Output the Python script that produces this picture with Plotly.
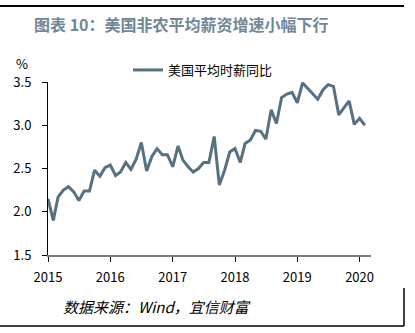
import plotly.graph_objects as go
import pandas as pd

# ---- data ----
months = pd.date_range("2015-01-01", "2020-02-01", freq="MS")
wage_yoy = [
    2.15, 1.90, 2.17, 2.25, 2.29, 2.23, 2.13, 2.24, 2.24, 2.48, 2.41, 2.51,   # 2015
    2.54, 2.42, 2.46, 2.57, 2.49, 2.61, 2.80, 2.47, 2.64, 2.73, 2.66, 2.66,   # 2016
    2.52, 2.76, 2.60, 2.52, 2.46, 2.50, 2.57, 2.57, 2.87, 2.31, 2.48, 2.69,   # 2017
    2.73, 2.57, 2.79, 2.83, 2.94, 2.93, 2.84, 3.18, 3.02, 3.32, 3.36, 3.38,   # 2018
    3.26, 3.49, 3.43, 3.36, 3.30, 3.41, 3.47, 3.45, 3.12, 3.20, 3.28, 3.01,   # 2019
    3.08, 3.00,                                                               # 2020
]
year_ticks = ["2015-01-01", "2016-01-01", "2017-01-01", "2018-01-01", "2019-01-01", "2020-01-01"]
year_labels = ["2015", "2016", "2017", "2018", "2019", "2020"]
y_ticks = [1.5, 2.0, 2.5, 3.0, 3.5]

series_name = "美国平均时薪同比"
title_text = "图表 10：美国非农平均薪资增速小幅下行"
source_text = "数据来源：Wind，宜信财富"

W, H = 415, 333
L, R, T, B = 48, 44, 82, 78
PW, PH = W - L - R, H - T - B

def px(x):
    return (x - L) / PW

def py(y):
    return (H - B - y) / PH

LINE_COLOR = "#577181"
FONT = "Noto Sans CJK SC, Noto Sans, DejaVu Sans"

fig = go.Figure()
fig.add_trace(go.Scatter(
    x=months, y=wage_yoy, mode="lines", name=series_name,
    line=dict(color=LINE_COLOR, width=3),
))

fig.update_layout(
    width=W, height=H,
    margin=dict(l=L, r=R, t=T, b=B, pad=0),
    paper_bgcolor="white", plot_bgcolor="white",
    font=dict(family=FONT, size=13, color="black"),
    showlegend=True,
    legend=dict(orientation="h", x=px(128), y=py(70), xanchor="left", yanchor="middle",
                font=dict(size=13, color="black"), bgcolor="rgba(0,0,0,0)",
                itemwidth=30, tracegroupgap=0),
    xaxis=dict(
        type="date", range=["2015-01-01", "2020-03-08"],
        tickvals=year_ticks, ticktext=year_labels,
        showline=True, linecolor="#7f7f7f", linewidth=2,
        ticks="outside", ticklen=5, tickcolor="black", tickwidth=1,
        showgrid=False, zeroline=False,
        ticklabelstandoff=4,
        tickfont=dict(size=13, color="black"),
    ),
    yaxis=dict(
        range=[1.5, 3.5], tickvals=y_ticks, tickformat=".1f",
        showline=True, linecolor="black", linewidth=1,
        ticks="outside", ticklen=5, tickcolor="black",
        showgrid=False, zeroline=False,
        ticklabelstandoff=8,
        tickfont=dict(size=13, color="black"),
    ),
)

fig.add_annotation(text="<b>" + title_text + "</b>", xref="paper", yref="paper",
                   x=px(32), y=py(24), xanchor="left", yanchor="middle", showarrow=False,
                   font=dict(size=16, color="#6f8796", family=FONT))
fig.add_annotation(text="%", xref="paper", yref="paper",
                   x=px(14), y=py(64), xanchor="left", yanchor="middle", showarrow=False,
                   font=dict(size=13, color="black"))
fig.add_annotation(text="<i>" + source_text + "</i>", xref="paper", yref="paper",
                   x=px(61), y=py(306), xanchor="left", yanchor="middle", showarrow=False,
                   font=dict(size=15, color="black", family=FONT))

# frame lines
fig.add_shape(type="line", xref="paper", yref="paper", x0=px(0), x1=px(404), y0=py(6), y1=py(6),
              line=dict(color="black", width=2))
fig.add_shape(type="line", xref="paper", yref="paper", x0=px(0), x1=px(404), y0=py(326), y1=py(326),
              line=dict(color="black", width=1.5))
fig.add_shape(type="line", xref="paper", yref="paper", x0=px(404), x1=px(404), y0=py(288), y1=py(326),
              line=dict(color="black", width=1.5))

fig.write_html("out.html")
